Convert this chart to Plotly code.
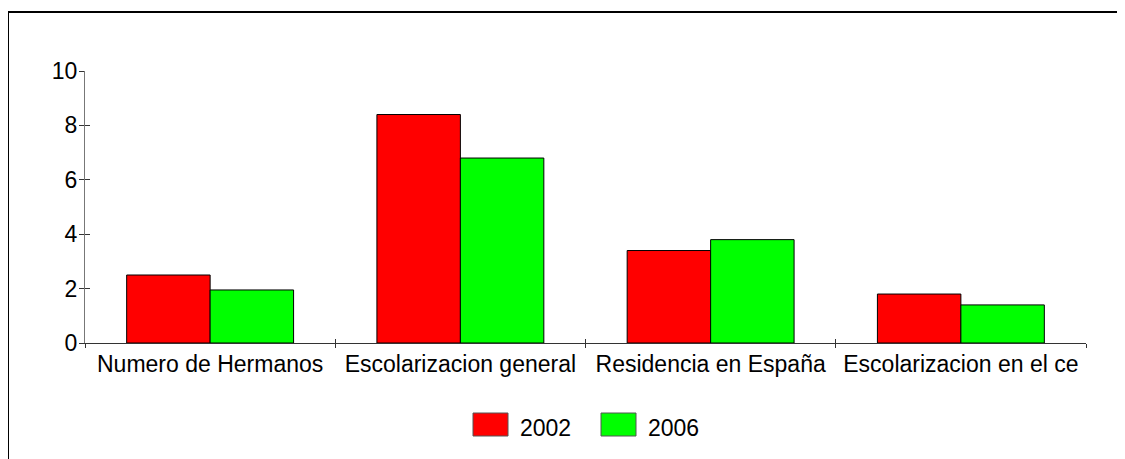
import plotly.graph_objects as go

categories = ["Numero de Hermanos", "Escolarizacion general", "Residencia en España", "Escolarizacion en el ce"]
series_names = ["2002", "2006"]
values_2002 = [2.5, 8.4, 3.4, 1.8]
values_2006 = [1.95, 6.8, 3.8, 1.4]
colors = ["#ff0000", "#00ff00"]
y_ticks = [0, 2, 4, 6, 8, 10]

FONT = "Liberation Sans, Arial, sans-serif"
FS = 23

# page body has an 8px margin; figure coordinates = page coordinates - 8
L, R, T, B = 77, 1078, 63, 335
W, H = 1117, 451

def px(x):
    return (x - 8 - L) / (R - L)

def py(y):
    return (B - (y - 8)) / (B - T)

fig = go.Figure()
for name, vals, col in zip(series_names, [values_2002, values_2006], colors):
    fig.add_trace(go.Bar(x=categories, y=vals, name=name,
                         marker=dict(color=col, line=dict(color="#000000", width=1)), showlegend=False))
# empty helper trace so the overlay axes (inner half of crossing ticks) get drawn
fig.add_trace(go.Scatter(x=[], y=[], xaxis="x2", yaxis="y2", showlegend=False, hoverinfo="skip"))

n = len(categories)
fig.update_layout(
    width=W, height=H,
    margin=dict(l=L, r=W - R, t=T, b=H - B),
    paper_bgcolor="white", plot_bgcolor="white",
    barmode="group", bargap=0.333, bargroupgap=0,
    font=dict(family=FONT, size=FS, color="#000000"),
    xaxis=dict(showline=True, linecolor="#333333", linewidth=1, ticks="outside", tickson="boundaries",
               ticklen=4, tickcolor="#333333", showgrid=False, tickfont=dict(size=FS), zeroline=False),
    yaxis=dict(range=[0, 10], tickvals=y_ticks, showline=True, linecolor="#777777", linewidth=1,
               ticks="outside", ticklen=5, tickcolor="#333333", showgrid=False, zeroline=False,
               tickfont=dict(size=FS), ticklabelstandoff=-3),
    xaxis2=dict(overlaying="x", side="bottom", range=[-0.5, n - 0.5],
                tickvals=[i - 0.5 for i in range(n + 1)], ticks="inside", ticklen=4,
                tickcolor="#333333", showticklabels=False, showgrid=False, zeroline=False, showline=False),
    yaxis2=dict(overlaying="y", side="left", range=[0, 10], tickvals=y_ticks, ticks="inside", ticklen=5,
                tickcolor="#333333", showticklabels=False, showgrid=False, zeroline=False, showline=False),
)

# outer frame
fig.add_shape(type="rect", xref="paper", yref="paper", x0=px(8), x1=px(1122),
              y0=py(475), y1=py(12), line=dict(color="#000000", width=2), fillcolor="rgba(0,0,0,0)")

# manual legend
leg_x = [473, 601]
for name, col, lx in zip(series_names, colors, leg_x):
    fig.add_shape(type="rect", xref="paper", yref="paper",
                  x0=px(lx), x1=px(lx + 35), y0=py(436), y1=py(413),
                  line=dict(color="#555555", width=1), fillcolor=col)
    fig.add_annotation(xref="paper", yref="paper", x=px(lx + 45), y=py(428),
                       text=name, showarrow=False, xanchor="left", yanchor="middle",
                       font=dict(size=FS, family=FONT, color="#000000"))

fig.write_html("out.html")
